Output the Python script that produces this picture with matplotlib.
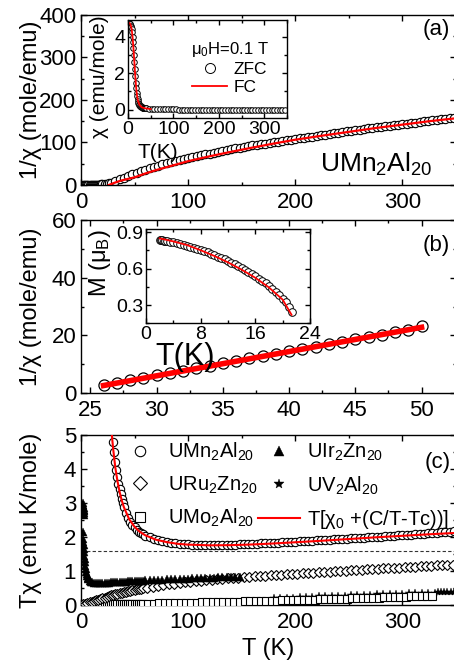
import numpy as np
import matplotlib
matplotlib.use("Agg")
import matplotlib.pyplot as plt
from matplotlib.ticker import MultipleLocator

plt.rcParams['font.family'] = ['Liberation Sans', 'DejaVu Sans']
plt.rcParams['mathtext.fontset'] = 'custom'
plt.rcParams['mathtext.rm'] = 'Liberation Sans'
plt.rcParams['mathtext.it'] = 'Liberation Sans:italic'
plt.rcParams['mathtext.default'] = 'regular'
plt.rcParams['axes.linewidth'] = 1.0

# ---------------------------------------------------------------------------
# (a) 1/chi vs T, UMn2Al20
# ---------------------------------------------------------------------------
T_a = [2, 3, 4, 5, 6, 7, 8, 9, 10, 11, 12, 13, 14, 15, 16, 17, 18, 19, 20, 22, 24, 26,
       28, 32, 36, 40, 44, 48, 52, 56, 60, 64, 68, 72, 76, 80, 84, 88, 92, 96, 100,
       104, 108, 112, 116, 120, 124, 128, 132, 136, 140, 144, 148, 152, 156, 160,
       164, 168, 172, 176, 180, 184, 188, 192, 196, 200, 204, 208, 212, 216, 220,
       224, 228, 232, 236, 240, 244, 248, 252, 256, 260, 264, 268, 272, 276, 280,
       284, 288, 292, 296, 300, 304, 308, 312, 316, 320, 324, 328, 332, 336, 340, 344, 348]
inv_chi_a = [0.21, 0.21, 0.21, 0.22, 0.22, 0.23, 0.24, 0.26, 0.28, 0.31, 0.35, 0.4, 0.47, 0.56, 0.7, 0.85, 1.0, 1.15, 1.25, 2.0, 2.7, 3.6,
             5.5, 9, 13, 17, 21, 25, 29, 32.5, 36, 39.5, 42.5, 45.5, 48.5, 51, 53.5, 56, 58.5, 61, 64,
             66, 68, 70, 72, 74, 76, 78, 80, 82, 84, 86, 87.5, 89.5, 91, 93,
             94.5, 96, 97.5, 99, 100.5, 102, 103.5, 105, 106.5, 108, 109.5, 111, 112.5, 114, 115.5,
             117, 118.5, 120, 121.5, 123, 124.5, 126, 127.5, 129, 130, 131.5, 133, 134, 135.5, 137,
             138, 139.5, 140.5, 142, 143, 144.5, 145.5, 147, 148, 149.5, 150.5, 152, 153, 154.5, 155.5, 157, 158]
T_a_fit = [26, 30, 35, 40, 50, 60, 70, 80, 90, 100, 120, 140, 160, 180, 200, 225, 250, 275, 300, 325, 350]
inv_chi_a_fit = [0, 4, 8.5, 12, 18, 27, 35, 42, 49, 56, 67.5, 78, 88, 97.5, 106.5, 116, 125, 134, 142, 150, 157]

# inset (a): chi vs T
T_zfc = [2, 3, 4, 5, 6, 7, 8, 9, 10, 11, 12, 13, 14, 15, 16, 17, 18, 19, 20, 21,
         22, 23, 24, 25, 26, 27, 28, 29, 30, 31, 32, 33, 34, 35, 36, 37, 38, 39, 40,
         46, 52, 58, 64, 70, 76, 82, 88, 94, 100, 106, 112, 118, 124, 130, 136, 142,
         148, 154, 160, 166, 172, 178, 184, 190, 196, 202, 208, 214, 220, 226, 232,
         238, 244, 250, 256, 262, 268, 274, 280, 286, 292, 298, 304, 310, 316, 322,
         328, 334, 340, 346]
chi_zfc = [4.72, 4.72, 4.7, 4.66, 4.6, 4.52, 4.4, 4.22, 3.98, 3.7, 3.36, 2.98, 2.6, 2.2, 1.82, 1.48, 1.18, 0.94, 0.75, 0.6,
           0.48, 0.39, 0.32, 0.27, 0.23, 0.2, 0.18, 0.16, 0.14, 0.13, 0.12, 0.11, 0.1, 0.095, 0.09, 0.085, 0.08, 0.075, 0.07,
           0.043, 0.035, 0.03, 0.025, 0.022, 0.02, 0.019, 0.018, 0.017, 0.016, 0.015, 0.014, 0.014, 0.013, 0.0125, 0.012, 0.012,
           0.0115, 0.011, 0.0108, 0.0105, 0.0102, 0.01, 0.0098, 0.0096, 0.0094, 0.0092, 0.009, 0.0088, 0.0087, 0.0085, 0.0084,
           0.0082, 0.0081, 0.008, 0.0078, 0.0077, 0.0076, 0.0075, 0.0074, 0.0073, 0.0072, 0.0071, 0.007, 0.0069, 0.0068, 0.0067,
           0.0066, 0.0065, 0.0064, 0.0063]
T_fc = [2, 4, 6, 8, 10, 12, 14, 16, 18, 20, 22, 25, 30, 35, 40, 50]
chi_fc = [4.75, 4.72, 4.62, 4.42, 4.0, 3.38, 2.62, 1.85, 1.2, 0.76, 0.49, 0.28, 0.14, 0.1, 0.07, 0.04]

# ---------------------------------------------------------------------------
# (b) 1/chi near Tc and M(T) inset
# ---------------------------------------------------------------------------
T_b = [26, 27, 28, 29, 30, 31, 32, 33, 34, 35, 36, 37, 38, 39, 40, 41, 42, 43, 44, 45, 46, 47, 48, 49, 50]
inv_chi_b = [2.9, 3.6, 4.4, 5.2, 6.1, 6.9, 7.7, 8.6, 9.4, 10.3, 11.1, 12.0, 12.8, 13.6, 14.5, 15.3, 16.1, 17.0,
             17.8, 18.7, 19.5, 20.3, 21.1, 21.9, 23.3]
T_b_fit = [26, 50]
inv_chi_b_fit = [2.6, 22.8]

T_m = [2, 2.2, 2.4, 2.6, 2.8, 3, 3.5, 4, 4.5, 5, 5.5, 6, 6.5, 7, 7.5, 8, 8.5, 9, 9.5, 10, 10.5, 11, 11.5, 12,
       12.5, 13, 13.5, 14, 14.5, 15, 15.5, 16, 16.5, 17, 17.5, 18, 18.5, 19, 19.5, 20, 20.5, 21, 21.4]
M_b = [0.835, 0.834, 0.833, 0.832, 0.83, 0.828, 0.823, 0.818, 0.812, 0.805, 0.798, 0.79, 0.782, 0.773, 0.764,
       0.754, 0.744, 0.734, 0.723, 0.712, 0.7, 0.688, 0.676, 0.663, 0.65, 0.636, 0.621, 0.606, 0.59, 0.573,
       0.556, 0.538, 0.519, 0.499, 0.478, 0.456, 0.433, 0.408, 0.382, 0.354, 0.323, 0.288, 0.245]
T_m_fit = [2, 4, 6, 8, 10, 12, 14, 16, 18, 20, 21.3]
M_fit = [0.85, 0.825, 0.795, 0.752, 0.705, 0.652, 0.592, 0.525, 0.445, 0.345, 0.22]

# ---------------------------------------------------------------------------
# (c) T*chi for several compounds
# ---------------------------------------------------------------------------
T_mn = [28, 29, 30, 31, 32, 33, 34, 35, 36, 37, 38, 39, 40, 42, 44, 46, 48, 50, 52, 54, 56, 58, 60,
        64, 68, 72, 76, 80, 84, 88, 92, 96, 100, 104, 108, 112, 116, 120, 124, 128, 132, 136, 140,
        144, 148, 152, 156, 160, 164, 168, 172, 176, 180, 184, 188, 192, 196, 200, 204, 208, 212,
        216, 220, 224, 228, 232, 236, 240, 244, 248, 252, 256, 260, 264, 268, 272, 276, 280, 284,
        288, 292, 296, 300, 304, 308, 312, 316, 320, 324, 328, 332, 336, 340, 344, 348]
tchi_mn = [5.55, 5.15, 4.8, 4.5, 4.22, 3.98, 3.76, 3.57, 3.4, 3.25, 3.12, 3.0, 2.89, 2.71, 2.57, 2.45, 2.36, 2.28, 2.22, 2.16, 2.12, 2.08, 2.04,
           1.99, 1.94, 1.9, 1.87, 1.85, 1.83, 1.81, 1.8, 1.79, 1.78, 1.775, 1.77, 1.765, 1.76, 1.76, 1.76, 1.76, 1.76, 1.765, 1.77,
           1.775, 1.78, 1.785, 1.79, 1.795, 1.8, 1.81, 1.815, 1.82, 1.83, 1.835, 1.84, 1.85, 1.855, 1.86, 1.87, 1.875, 1.88,
           1.89, 1.9, 1.905, 1.91, 1.92, 1.93, 1.935, 1.94, 1.95, 1.96, 1.965, 1.97, 1.98, 1.99, 1.995, 2.0, 2.01, 2.02,
           2.03, 2.04, 2.045, 2.05, 2.06, 2.07, 2.08, 2.09, 2.1, 2.11, 2.12, 2.13, 2.14, 2.15, 2.16, 2.17]
T_fit_c = [28.5, 30, 32, 34, 36, 38, 40, 45, 50, 55, 60, 70, 80, 90, 100, 120, 140, 160, 180, 200, 225, 250, 275, 300, 325, 350]
tchi_fit_c = [5.1, 4.6, 4.05, 3.65, 3.33, 3.08, 2.88, 2.52, 2.3, 2.15, 2.05, 1.92, 1.85, 1.8, 1.775, 1.755, 1.76, 1.78,
              1.81, 1.845, 1.89, 1.94, 1.99, 2.035, 2.08, 2.12]

T_ru = [2, 4, 6, 8, 10, 12, 14, 16, 18, 20, 22, 24, 26, 28, 30, 32, 34, 36, 38, 40, 42, 44, 46, 48, 50, 52, 54, 56, 58,
        62, 67, 72, 77, 82, 87, 92, 97, 102, 107, 112, 117, 122, 127, 132, 137, 142, 147, 152, 157, 162, 167, 172, 177,
        182, 187, 192, 197, 202, 207, 212, 217, 222, 227, 232, 237, 242, 247, 252, 257, 262, 267, 272, 277, 282, 287,
        292, 297, 302, 307, 312, 317, 322, 327, 332, 337, 342, 347]
tchi_ru = [0.02, 0.04, 0.06, 0.08, 0.1, 0.12, 0.14, 0.16, 0.18, 0.2, 0.22, 0.24, 0.26, 0.28, 0.3, 0.31, 0.33, 0.35, 0.36, 0.38,
           0.39, 0.41, 0.42, 0.44, 0.45, 0.46, 0.47, 0.48, 0.49,
           0.51, 0.54, 0.56, 0.59, 0.61, 0.63, 0.65, 0.67, 0.685, 0.7, 0.715, 0.73, 0.745, 0.76, 0.77, 0.78, 0.795, 0.805, 0.815,
           0.83, 0.84, 0.85, 0.86, 0.87, 0.88, 0.89, 0.9, 0.91, 0.92, 0.93, 0.94, 0.95, 0.96, 0.97, 0.98, 0.99, 1.0, 1.01,
           1.02, 1.03, 1.04, 1.05, 1.06, 1.065, 1.075, 1.085, 1.09, 1.1, 1.11, 1.12, 1.13, 1.14, 1.145, 1.155, 1.165, 1.17,
           1.18, 1.19]

T_ir = [1.8, 2.0, 2.2, 2.4, 2.6, 2.8, 3.0, 3.2, 1.9, 2.1, 2.2, 2.4, 2.6, 2.8, 3.0, 3.3, 3.6, 4.0, 4.4, 4.8, 5.3, 5.8,
        6.4, 7, 8, 9, 10, 12, 14, 16, 18, 20, 22, 24, 26, 28, 30, 32, 34, 36, 38, 40, 42, 44, 46, 48, 50, 52, 54, 56,
        58, 60, 64, 68, 72, 76, 80, 84, 88, 92, 96, 100, 104, 108, 112, 116, 120, 124, 128, 132, 136, 140, 144, 148]
tchi_ir = [2.95, 3.0, 2.9, 2.8, 2.85, 2.7, 2.75, 2.65, 2.15, 1.95, 1.85, 1.75, 1.65, 1.55, 1.45, 1.35, 1.25, 1.15, 1.05,
           0.97, 0.9, 0.84, 0.79, 0.75, 0.71, 0.69, 0.67, 0.66, 0.655, 0.65, 0.65, 0.65, 0.655, 0.66, 0.66, 0.665, 0.67,
           0.67, 0.675, 0.68, 0.685, 0.69, 0.69, 0.695, 0.7, 0.705, 0.71, 0.71, 0.715, 0.72, 0.72, 0.725, 0.73, 0.735,
           0.74, 0.745, 0.75, 0.755, 0.76, 0.765, 0.77, 0.775, 0.78, 0.785, 0.79, 0.795, 0.8, 0.805, 0.81, 0.815, 0.82,
           0.825, 0.83, 0.835]

T_v = [180, 186, 192, 198, 204, 210, 216, 222, 228, 234, 240, 246, 252, 258, 264, 270, 276, 282, 288, 294, 300,
       306, 312, 318, 324, 330, 333, 336, 339, 342, 345, 348, 351]
tchi_v = [0.2, 0.21, 0.215, 0.22, 0.23, 0.235, 0.24, 0.25, 0.255, 0.26, 0.27, 0.275, 0.28, 0.29, 0.295, 0.3, 0.31,
          0.315, 0.32, 0.33, 0.335, 0.34, 0.35, 0.355, 0.36, 0.365, 0.37, 0.37, 0.375, 0.38, 0.38, 0.385, 0.39]

T_mo = [2, 4, 6, 8, 10, 12, 14, 16, 18, 20, 22, 24, 26, 28, 30, 32, 34, 36, 38, 40, 42, 44, 46, 48, 50, 52, 54, 56, 58,
        63, 68, 73, 78, 83, 88, 93, 98, 103, 108, 113, 118, 123, 128, 133, 138, 143, 148, 153, 158, 163, 168, 173, 178,
        183, 188, 193, 198, 203, 208, 213, 218, 223, 228, 233, 238, 243, 248, 253, 258, 263, 268, 273, 278, 283, 288,
        293, 298, 303, 308, 313, 318, 323, 328]
tchi_mo = [0.01, 0.01, 0.01, 0.012, 0.012, 0.014, 0.015, 0.016, 0.017, 0.018, 0.019, 0.02, 0.021, 0.022, 0.023, 0.024,
           0.025, 0.026, 0.027, 0.028, 0.029, 0.03, 0.031, 0.032, 0.033, 0.034, 0.035, 0.036, 0.037,
           0.04, 0.043, 0.047, 0.05, 0.054, 0.057, 0.061, 0.064, 0.068, 0.071, 0.075, 0.079, 0.082, 0.086, 0.09, 0.094,
           0.098, 0.102, 0.106, 0.11, 0.114, 0.118, 0.122, 0.126, 0.13, 0.134, 0.138, 0.142, 0.146, 0.15, 0.155, 0.16,
           0.165, 0.17, 0.175, 0.18, 0.185, 0.19, 0.195, 0.2, 0.205, 0.21, 0.215, 0.22, 0.225, 0.23, 0.235, 0.24, 0.245,
           0.25, 0.255, 0.26, 0.265, 0.27]

tchi_ref_level = 1.6

RED = '#ff0000'
FS_TICK = 16
FS_LABEL = 17
W, H = 454, 663


def style(ax, xmaj, xmin, ymaj, ymin, size=FS_TICK, maj=4.5, mnr=2.5):
    ax.xaxis.set_major_locator(MultipleLocator(xmaj))
    ax.xaxis.set_minor_locator(MultipleLocator(xmin))
    ax.yaxis.set_major_locator(MultipleLocator(ymaj))
    ax.yaxis.set_minor_locator(MultipleLocator(ymin))
    ax.tick_params(which='both', direction='in', top=True, right=True, labelsize=size, width=1.0)
    ax.tick_params(which='major', length=maj)
    ax.tick_params(which='minor', length=mnr)


fig = plt.figure(figsize=(W / 100, H / 100), dpi=100)

# ---------------- panel (a)
ax1 = fig.add_axes([0.1784, 0.7210, 0.826, 0.2564])
ax1.plot(T_a, inv_chi_a, 'o', mfc='white', mec='black', ms=6, mew=0.8, zorder=2)
ax1.plot(T_a_fit, inv_chi_a_fit, '-', color=RED, lw=1.6, zorder=3)
ax1.set_xlim(0, 350)
ax1.set_ylim(0, 400)
style(ax1, 100, 50, 100, 50)
ax1.tick_params(axis='x', pad=5)
ax1.set_ylabel('1/χ (mole/emu)', fontsize=FS_LABEL)
ax1.yaxis.set_label_coords(-0.105, 0.5)
ax1.text(0.985, 0.915, '(a)', transform=ax1.transAxes, ha='right', va='center', fontsize=16)
ax1.text(0.936, 0.12, 'UMn$_2$Al$_{20}$', transform=ax1.transAxes, ha='right', va='center', fontsize=19)

ins1 = fig.add_axes([0.2819, 0.822, 0.3502, 0.1478])
ins1.plot(T_zfc, chi_zfc, 'o', mfc='white', mec='black', ms=4, mew=0.7, label='ZFC')
ins1.plot(T_fc, chi_fc, '-', color=RED, lw=1.3, label='FC')
ins1.set_xlim(0, 350)
ins1.set_ylim(-0.45, 4.9)
style(ins1, 100, 50, 2, 1, size=14, maj=3.5, mnr=2)
ins1.tick_params(pad=2)
ins1.set_xlabel('T(K)', fontsize=15)
ins1.xaxis.set_label_coords(0.185, -0.25)
ins1.set_ylabel('χ (emu/mole)', fontsize=15)
ins1.yaxis.set_label_coords(-0.12, 0.42)
ins1.legend(loc='upper left', bbox_to_anchor=(0.33, 0.9), frameon=False, fontsize=12.5,
            title='μ$_0$H=0.1 T', title_fontsize=12, markerscale=1.8, handlelength=2.0,
            handletextpad=0.4, labelspacing=0.15, borderpad=0.1)

# ---------------- panel (b)
ax2 = fig.add_axes([0.1784, 0.4072, 0.826, 0.2609])
ax2.plot(T_b, inv_chi_b, 'o', mfc='none', mec='black', ms=8, mew=0.9, zorder=2)
ax2.plot(T_b_fit, inv_chi_b_fit, '-', color=RED, lw=4, zorder=3)
ax2.set_xlim(24.3, 52.6)
ax2.set_ylim(0, 60)
style(ax2, 5, 2.5, 20, 10)
ax2.tick_params(axis='x', pad=5)
ax2.set_ylabel('1/χ (mole/emu)', fontsize=FS_LABEL)
ax2.yaxis.set_label_coords(-0.105, 0.5)
ax2.text(0.985, 0.855, '(b)', transform=ax2.transAxes, ha='right', va='center', fontsize=16)

ins2 = fig.add_axes([0.3216, 0.5124, 0.3612, 0.1418])
ins2.plot(T_m, M_b, 'o', mfc='white', mec='black', ms=5.5, mew=0.7, zorder=2)
ins2.plot(T_m_fit, M_fit, '-', color=RED, lw=1.3, zorder=3)
ins2.set_xlim(0, 24)
ins2.set_ylim(0.15, 0.925)
style(ins2, 8, 4, 0.3, 0.15, size=14, maj=3.5, mnr=2)
ins2.tick_params(pad=2)
ins2.set_xlabel('T(K)', fontsize=22)
ins2.xaxis.set_label_coords(0.24, -0.2)
ins2.set_ylabel('M (μ$_B$)', fontsize=17)
ins2.yaxis.set_label_coords(-0.2, 0.64)

# ---------------- panel (c)
ax3 = fig.add_axes([0.1784, 0.0875, 0.826, 0.2564])
ax3.axhline(tchi_ref_level, color='#333333', lw=0.8, ls=(0, (3, 2)), zorder=1)
ax3.plot(T_v, tchi_v, '*', color='black', ms=6, mew=0.3, zorder=2, label='UV$_2$Al$_{20}$')
ax3.plot(T_mo, tchi_mo, 's', mfc='white', mec='black', ms=5.5, mew=0.8, zorder=3, label='UMo$_2$Al$_{20}$')
ax3.plot(T_ru, tchi_ru, 'D', mfc='white', mec='black', ms=5.5, mew=0.8, zorder=3, label='URu$_2$Zn$_{20}$')
ax3.plot(T_ir, tchi_ir, '^', color='black', ms=5.5, mew=0.3, zorder=4, label='UIr$_2$Zn$_{20}$')
ax3.plot(T_mn, tchi_mn, 'o', mfc='white', mec='black', ms=6, mew=0.8, zorder=4, label='UMn$_2$Al$_{20}$')
ax3.plot(T_fit_c, tchi_fit_c, '-', color=RED, lw=1.5, zorder=5, label='T[χ$_0$ +(C/T-Tc))]')
ax3.set_xlim(0, 350)
ax3.set_ylim(0, 5)
style(ax3, 100, 50, 1, 0.5)
ax3.tick_params(axis='x', pad=5)
ax3.set_xlabel('T (K)', fontsize=FS_LABEL, labelpad=4)
ax3.set_ylabel('Tχ (emu K/mole)', fontsize=FS_LABEL)
ax3.yaxis.set_label_coords(-0.105, 0.5)
ax3.text(0.985, 0.84, '(c)', transform=ax3.transAxes, ha='right', va='center', fontsize=16)

h, l = ax3.get_legend_handles_labels()
order = [l.index(k) for k in ['UMn$_2$Al$_{20}$', 'URu$_2$Zn$_{20}$', 'UMo$_2$Al$_{20}$',
                              'UIr$_2$Zn$_{20}$', 'UV$_2$Al$_{20}$', 'T[χ$_0$ +(C/T-Tc))]']]
LEG_FS = 14.5
fs_px = LEG_FS * 100 / 72


def legend_c(x, y, colsp, labsp):
    return ax3.legend([h[i] for i in order], [l[i] for i in order], ncol=2, loc='upper left',
                      bbox_to_anchor=(x, y), frameon=False, fontsize=LEG_FS, handlelength=2.1,
                      handletextpad=0.35, columnspacing=colsp, labelspacing=labsp, borderpad=0.1,
                      borderaxespad=0.0, markerscale=1.25)


# place the legend so its texts sit where the reference has them (pixel targets)
leg_x, leg_y, colsp, labsp = 0.09, 0.975, 0.0, 0.47
ax_w, ax_h = 0.826 * W, 0.2564 * H
for _ in range(3):
    leg = legend_c(leg_x, leg_y, colsp, labsp)
    fig.canvas.draw()
    r = fig.canvas.get_renderer()
    bb = [t.get_window_extent(r) for t in leg.get_texts()]
    pitch = (bb[0].y0 + bb[0].y1) / 2 - (bb[1].y0 + bb[1].y1) / 2
    labsp += (33 - pitch) / fs_px
    colsp = max(0.0, colsp + (136 - (bb[3].x0 - bb[0].x0)) / fs_px)
    leg_x += (168 - bb[0].x0) / ax_w
    leg_y += ((H - 452) - (bb[0].y0 + bb[0].y1) / 2) / ax_h
legend_c(leg_x, leg_y, colsp, labsp)

fig.savefig('out.png', dpi=100)
